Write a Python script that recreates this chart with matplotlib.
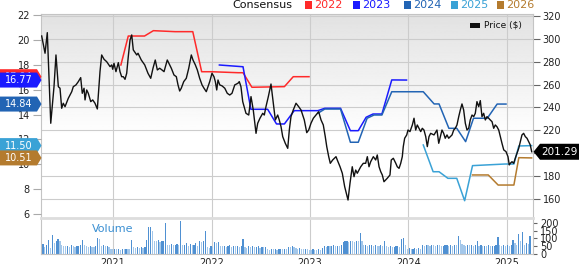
import numpy as np
import matplotlib
matplotlib.use("Agg")
import matplotlib.pyplot as plt
from matplotlib.patches import Polygon, Rectangle

plt.rcParams['font.family'] = ['DejaVu Sans']

# price, x in decimal years (right axis, $)
price_t = [2020.276, 2020.310, 2020.333, 2020.368, 2020.401, 2020.421, 2020.445, 2020.462, 2020.479, 2020.495,
           2020.513, 2020.546, 2020.581, 2020.597, 2020.624, 2020.648, 2020.672, 2020.688, 2020.706, 2020.716,
           2020.733, 2020.749, 2020.774, 2020.794, 2020.817, 2020.841, 2020.868, 2020.885, 2020.909, 2020.936,
           2020.970, 2020.987, 2020.997, 2021.010, 2021.030, 2021.054, 2021.071, 2021.088, 2021.105, 2021.122,
           2021.139, 2021.155, 2021.173, 2021.190, 2021.206, 2021.241, 2021.254,
           2021.287, 2021.322, 2021.355, 2021.383, 2021.406, 2021.429, 2021.450, 2021.474, 2021.497, 2021.518,
           2021.551, 2021.576, 2021.592, 2021.619, 2021.643, 2021.660, 2021.677, 2021.693, 2021.718, 2021.744,
           2021.769, 2021.795, 2021.812, 2021.836, 2021.856, 2021.880, 2021.904, 2021.924, 2021.947, 2021.964,
           2021.982, 2022.005, 2022.025, 2022.039, 2022.053, 2022.066, 2022.084, 2022.107, 2022.135, 2022.160,
           2022.185, 2022.208, 2022.236, 2022.269,
           2022.282, 2022.299, 2022.317, 2022.350, 2022.378, 2022.401, 2022.424, 2022.452, 2022.469, 2022.492,
           2022.520, 2022.536, 2022.553, 2022.577, 2022.604, 2022.627, 2022.648, 2022.672, 2022.688, 2022.706,
           2022.723, 2022.749, 2022.774, 2022.790, 2022.807, 2022.830, 2022.858, 2022.885, 2022.909, 2022.942,
           2022.967, 2022.987, 2023.010, 2023.034, 2023.061, 2023.088, 2023.112, 2023.135, 2023.155, 2023.170,
           2023.190, 2023.206, 2023.230, 2023.264,
           2023.277, 2023.305, 2023.328, 2023.352, 2023.373, 2023.386, 2023.406, 2023.429, 2023.447, 2023.464,
           2023.480, 2023.497, 2023.515, 2023.541, 2023.565, 2023.582, 2023.599, 2023.616, 2023.643, 2023.667,
           2023.683, 2023.701, 2023.718, 2023.734, 2023.751, 2023.784, 2023.812, 2023.825, 2023.846, 2023.871,
           2023.886, 2023.904, 2023.921, 2023.937, 2023.947, 2023.961, 2023.982, 2023.995, 2024.015, 2024.039,
           2024.056, 2024.073, 2024.089, 2024.107, 2024.124, 2024.140, 2024.157, 2024.175, 2024.191, 2024.208,
           2024.225, 2024.259,
           2024.289, 2024.307, 2024.323, 2024.340, 2024.357, 2024.373, 2024.391, 2024.408, 2024.424, 2024.442,
           2024.459, 2024.475, 2024.492, 2024.510, 2024.526, 2024.543, 2024.560, 2024.577, 2024.594, 2024.611,
           2024.627, 2024.645, 2024.662, 2024.678, 2024.695, 2024.713, 2024.729, 2024.746, 2024.763, 2024.780,
           2024.797, 2024.814, 2024.830, 2024.848, 2024.865, 2024.881, 2024.898, 2024.916, 2024.932, 2024.949,
           2024.967, 2024.990, 2025.010, 2025.023, 2025.033, 2025.051, 2025.068, 2025.084, 2025.102, 2025.119,
           2025.135, 2025.152, 2025.169, 2025.186, 2025.203, 2025.220, 2025.236, 2025.251]
price = [302.5, 287.4, 305.4, 226.2, 258.2, 285.9, 258.2, 256.8, 239.3, 243.7,
         240.7, 248.0, 253.8, 258.2, 259.7, 262.6, 266.1, 252.4, 256.8, 246.6,
         255.3, 252.4, 245.1, 246.6, 243.7, 238.7, 271.3, 285.9, 282.1, 280.0,
         275.7, 277.2, 273.4, 278.6, 271.3, 279.2, 271.3, 266.9, 266.9, 264.6,
         269.9, 284.4, 299.0, 303.4, 290.3, 285.9, 287.4,
         281.5, 277.2, 269.9, 265.5, 274.3, 281.5, 272.8, 274.3, 272.8, 271.3,
         281.5, 277.2, 274.3, 268.4, 266.9, 259.7, 254.4, 256.8, 262.6, 265.5,
         274.3, 285.9, 281.5, 277.2, 272.8, 265.5, 259.7, 256.8, 253.8, 258.2,
         262.6, 269.9, 266.9, 262.6, 255.3, 264.0, 259.7, 258.9, 256.8, 252.4,
         250.9, 252.4, 259.7, 261.2,
         262.6, 258.2, 245.1, 234.9, 233.4, 249.5, 237.8, 217.4, 226.2, 230.6,
         234.9, 233.4, 240.7, 249.5, 260.5, 243.7, 229.1, 233.4, 229.1, 223.2,
         214.5, 208.7, 204.3, 220.3, 232.0, 237.8, 243.7, 240.7, 237.8, 229.1,
         218.0, 220.3, 226.2, 230.6, 233.4, 236.3, 229.1, 224.7, 214.5, 205.8,
         197.0, 191.2, 194.1, 197.0,
         194.1, 188.2, 182.5, 170.8, 163.5, 159.1, 173.7, 188.2, 179.5, 185.3,
         182.5, 185.3, 188.2, 191.2, 191.2, 197.0, 188.2, 192.6, 197.0, 194.1,
         198.5, 188.2, 183.9, 181.0, 175.1, 178.1, 181.0, 194.1, 195.6, 191.2,
         188.2, 186.8, 191.2, 197.0, 205.8, 213.1, 216.0, 220.3, 218.9, 224.7,
         230.6, 220.3, 224.7, 221.8, 218.9, 221.8, 220.3, 214.5, 205.8, 214.5,
         217.4, 216.0,
         220.3, 208.7, 214.5, 220.3, 217.4, 213.1, 216.0, 213.1, 214.5, 216.0,
         220.3, 221.8, 224.7, 232.0, 237.8, 243.1, 237.8, 226.2, 220.3, 221.8,
         229.1, 233.4, 232.0, 234.9, 245.1, 240.7, 246.0, 232.0, 234.9, 229.1,
         232.0, 230.6, 229.1, 227.6, 221.8, 224.7, 223.2, 220.3, 214.5, 208.7,
         202.9, 201.4, 197.0, 189.8, 191.2, 192.6, 191.2, 195.6, 200.0, 204.3,
         210.1, 216.0, 217.4, 214.5, 213.1, 210.1, 207.3, 201.29]

# consensus EPS estimates (left axis)
eps22_t = [2021.08, 2021.155, 2021.32, 2021.41, 2021.63, 2021.81, 2021.90, 2022.0, 2022.27, 2022.32,
           2022.41, 2022.74, 2022.83, 2022.99]
eps22 = [17.98, 20.31, 20.31, 20.74, 20.66, 20.66, 17.44, 17.44, 17.36, 17.36, 16.19, 16.24, 17.04, 17.04]
eps23_t = [2022.08, 2022.32, 2022.40, 2022.57, 2022.66, 2022.74, 2022.84, 2023.08, 2023.15, 2023.31,
           2023.41, 2023.49, 2023.57, 2023.64, 2023.73, 2023.83, 2023.98]
eps23 = [17.98, 17.84, 14.42, 14.42, 13.24, 13.24, 14.31, 14.31, 14.50, 14.50,
         12.70, 12.70, 13.78, 14.04, 14.04, 16.78, 16.77]
eps24_t = [2023.08, 2023.15, 2023.31, 2023.41, 2023.49, 2023.58, 2023.65, 2023.73, 2023.83, 2024.15,
           2024.26, 2024.31, 2024.41, 2024.49, 2024.58, 2024.66, 2024.80, 2024.90, 2024.99]
eps24 = [14.10, 14.44, 14.44, 11.77, 11.77, 13.70, 13.96, 13.96, 15.83, 15.83,
         14.85, 14.85, 12.89, 12.89, 11.82, 13.70, 13.70, 14.84, 14.84]
eps25_t = [2024.15, 2024.25, 2024.31, 2024.40, 2024.49, 2024.57, 2024.65, 2024.98, 2025.07, 2025.12, 2025.25]
eps25 = [11.55, 9.40, 9.40, 8.87, 8.87, 7.07, 9.89, 10.02, 10.02, 11.47, 11.50]
eps26_t = [2024.65, 2024.81, 2024.91, 2025.07, 2025.12, 2025.25]
eps26 = [9.14, 9.14, 8.33, 8.33, 10.53, 10.51]

# weekly volume
volume = [32, 65, 45, 55, 92, 40, 123, 70, 85, 95,
          80, 55, 50, 48, 52, 45, 55, 50, 45, 48,
          52, 60, 90, 55, 48, 45, 50, 47, 45, 52,
          100, 95, 50, 55, 48, 52, 45, 35, 30, 33,
          30, 35, 28, 32, 30, 35, 33, 30, 90, 45,
          40, 42, 38, 45, 40, 42, 90, 175, 175, 150,
          85, 80, 90, 75, 80, 85, 195, 60, 55, 62,
          58, 60, 65, 55, 210, 55, 60, 70, 50, 65,
          55, 60, 70, 50, 80, 75, 80, 145, 45, 40,
          48, 45, 75, 70, 75, 50, 48, 52, 45, 50,
          55, 45, 50, 48, 52, 45, 50, 95, 45, 40,
          48, 45, 50, 42, 45, 48, 40, 45, 42, 45,
          30, 28, 32, 30, 35, 28, 30, 32, 30, 35,
          30, 45, 42, 48, 45, 40, 35, 38, 35, 32,
          35, 30, 28, 25, 30, 28, 25, 30, 28, 40,
          50, 45, 52, 48, 50, 55, 48, 52, 50, 55,
          75, 80, 85, 78, 82, 80, 75, 85, 80, 135,
          80, 55, 60, 50, 55, 58, 50, 55, 52, 50,
          55, 48, 80, 50, 45, 48, 42, 45, 48, 50,
          45, 95, 100, 60, 35, 38, 32, 35, 40, 35,
          38, 35, 55, 52, 58, 55, 50, 60, 55, 52,
          58, 55, 50, 52, 55, 58, 50, 55, 52, 58,
          55, 115, 90, 65, 55, 50, 58, 55, 60, 52,
          55, 80, 50, 55, 48, 52, 50, 55, 48, 50,
          52, 55, 110, 55, 50, 60, 52, 55, 50, 58,
          90, 70, 60, 130, 85, 140, 60, 70, 65, 115]
vol_start = 2020.27

years = [2021, 2022, 2023, 2024, 2025]
price_ticks = [160, 180, 200, 220, 240, 260, 280, 300, 320]
eps_ticks = [6, 8, 10, 12, 14, 16, 18, 20, 22]
vol_ticks = [0, 50, 100, 150, 200]

series = [('2022', eps22_t, eps22, '#ff2a2a'),
          ('2023', eps23_t, eps23, '#1a1aff'),
          ('2024', eps24_t, eps24, '#2264b4'),
          ('2025', eps25_t, eps25, '#3aa2d6'),
          ('2026', eps26_t, eps26, '#b47b2e')]

W, H = 579, 264
fig = plt.figure(figsize=(W / 100, H / 100), dpi=100)
xlim = (2020.269, 2025.264)
grid_c = '#cccccc'

ax = fig.add_axes([41 / W, 1 - 218 / H, 492 / W, 204 / H])
grad = np.clip(0.885 + 0.115 * np.linspace(0, 1, 256) / 0.6, 0, 1).reshape(-1, 1)
ax.imshow(grad, extent=[0, 1, 0, 1], transform=ax.transAxes, aspect='auto', cmap='gray',
          vmin=0, vmax=1, zorder=0)
ax_eps = ax.twinx()
ax_px = ax.twinx()

ax.set_xlim(*xlim)
ax.set_ylim(143.4, 321.7)
ax.set_yticks(price_ticks)
ax.set_xticks(years)
ax.grid(True, color=grid_c, lw=0.8)
ax.set_axisbelow(True)
ax.yaxis.tick_right()
ax.tick_params(axis='y', length=5, color='#666666', labelsize=7, pad=2, labelcolor='#222222')
ax.tick_params(axis='x', length=0, labelbottom=False)
for s in ax.spines.values():
    s.set_color('#c4c4c4')

for name, t, v, c in series:
    ax_eps.plot(t, v, color=c, lw=1.1)
ax_eps.set_ylim(5.68, 22.08)
ax_eps.set_yticks(eps_ticks)
ax_eps.yaxis.tick_left()
ax_eps.tick_params(axis='y', length=6, color='#aaaaaa', labelsize=7, pad=2, labelcolor='#222222')
for s in ax_eps.spines.values():
    s.set_visible(False)

ax_px.plot(price_t, price, color='#111111', lw=1.0)
ax_px.set_ylim(ax.get_ylim())
ax_px.yaxis.set_visible(False)
for s in ax_px.spines.values():
    s.set_visible(False)

# volume panel
axv = fig.add_axes([41 / W, 1 - 254 / H, 492 / W, 36 / H])
vol_t = vol_start + np.arange(len(volume)) * 7 / 365.25
cols = ['#4f90d2' if i > 0 and volume[i] >= volume[i - 1] else '#a3c7ea' for i in range(len(volume))]
axv.bar(vol_t, volume, width=0.012, color=cols, zorder=2)
axv.set_xlim(*xlim)
axv.set_ylim(0, 230)
axv.set_yticks(vol_ticks)
axv.set_xticks(years)
axv.set_xticklabels([str(y) for y in years])
axv.grid(True, axis='x', color=grid_c, lw=0.8)
axv.set_axisbelow(True)
axv.yaxis.tick_right()
axv.tick_params(axis='y', length=3, color='#666666', labelsize=7, pad=2, labelcolor='#222222')
axv.tick_params(axis='x', length=0, labelsize=7, pad=3, labelcolor='#222222')
for s in axv.spines.values():
    s.set_color('#c4c4c4')
axv.spines['top'].set_color('#dddddd')
axv.spines['top'].set_linewidth(2)
axv.text(51 / 492, 0.7, 'Volume', transform=axv.transAxes, color='#3a8fd2', fontsize=8,
         va='center', ha='left')

# value tags
inv = fig.transFigure.inverted()


def fig_y(axis, value):
    return inv.transform(axis.transData.transform((xlim[0], value)))[1]


def left_tag(value, color, z):
    y = fig_y(ax_eps, value)
    h = 7.5 / H
    fig.add_artist(Polygon([(0, y - h), (37 / W, y - h), (41.5 / W, y), (37 / W, y + h), (0, y + h)],
                           closed=True, fc=color, ec='none', transform=fig.transFigure, zorder=z))
    fig.text(19 / W, y, f'{value:.2f}', color='white', fontsize=7, ha='center', va='center', zorder=z + 1)


for i, (name, t, v, c) in enumerate(series):
    left_tag(v[-1], c, 5 + 2 * i)

y = fig_y(ax, price[-1])
h = 8 / H
fig.add_artist(Polygon([(533.5 / W, y), (540 / W, y - h), (1, y - h), (1, y + h), (540 / W, y + h)],
                       closed=True, fc='black', ec='none', transform=fig.transFigure, zorder=5))
fig.text(559.5 / W, y, f'{price[-1]:.2f}', color='white', fontsize=7.5, ha='center', va='center', zorder=6)

# consensus legend
ly = 1 - 5 / H
fig.text(232 / W, ly, 'Consensus', fontsize=8, ha='left', va='center', color='#111111')
for (name, t, v, c), x0 in zip(series, [305, 353, 404, 451, 497]):
    fig.add_artist(Rectangle((x0 / W, 1 - 9 / H), 7 / W, 8 / H, fc=c, ec='none', transform=fig.transFigure))
    fig.text((x0 + 9) / W, ly, name, fontsize=8, ha='left', va='center', color=c)

fig.add_artist(Rectangle((470 / W, 1 - 27.5 / H), 10 / W, 5 / H, fc='#111111', ec='none',
                         transform=fig.transFigure))
fig.text(484 / W, 1 - 25 / H, 'Price ($)', fontsize=6.5, ha='left', va='center', color='#111111')

fig.savefig('out.png', dpi=100)
